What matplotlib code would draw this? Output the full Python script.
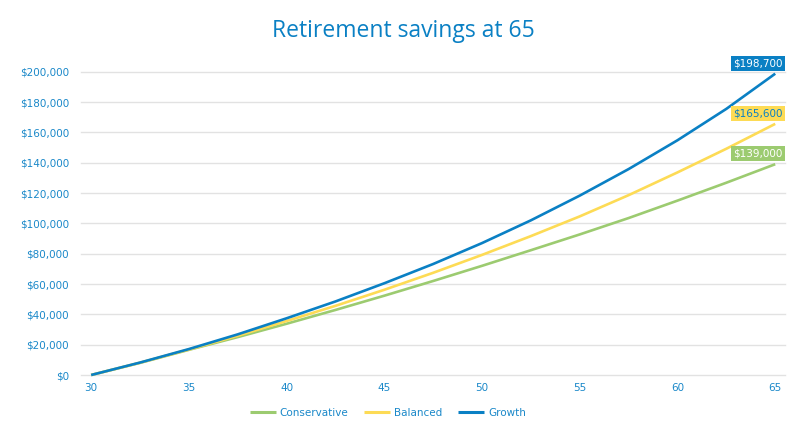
import matplotlib
matplotlib.use("Agg")
import matplotlib.pyplot as plt
from matplotlib.ticker import FuncFormatter, MultipleLocator

# ---- data ----
ages = [30, 32.5, 35, 37.5, 40, 42.5, 45, 47.5, 50, 52.5, 55, 57.5, 60, 62.5, 65]
conservative = [0, 8000, 16600, 25000, 33800, 42900, 52300, 62000, 72000,
                82300, 92700, 103500, 115000, 126800, 139000]
balanced = [0, 8100, 16800, 25900, 35600, 45600, 56200, 67400, 79200,
            91600, 104600, 118600, 133600, 149200, 165600]
growth = [0, 8200, 17100, 26800, 37400, 48500, 60500, 73200, 87000,
          102000, 118300, 135800, 154800, 175500, 198700]
series_names = ["Conservative", "Balanced", "Growth"]
end_labels = ["$139,000", "$165,600", "$198,700"]
x_ticks = [30, 35, 40, 45, 50, 55, 60, 65]
title = "Retirement savings at 65"

# ---- style ----
BLUE = "#0a80c4"
YELLOW = "#fddb55"
GREEN = "#9ccb70"
TXT = "#1a88c9"
GRID = "#e2e2e2"
colors = [GREEN, YELLOW, BLUE]
label_text_colors = ["white", BLUE, "white"]

plt.rcParams['font.family'] = ['DejaVu Sans']

fig = plt.figure(figsize=(8, 4.4), dpi=100)
ax = fig.add_axes([81/800, 1 - 375/440, (785-81)/800, (375-71.7)/440])

for name, vals, c in zip(series_names, [conservative, balanced, growth], colors):
    ax.plot(ages, vals, color=c, lw=1.9, label=name, solid_capstyle='butt',
            clip_on=False, zorder=3)

for vals, lab, c, tc in zip([conservative, balanced, growth], end_labels, colors, label_text_colors):
    ax.annotate(lab, xy=(ages[-1], vals[-1]), xytext=(7.5, 10.5),
                textcoords='offset pixels', ha='right', va='center',
                fontsize=7.5, color=tc, zorder=5, annotation_clip=False,
                bbox=dict(boxstyle='square,pad=0.25', fc=c, ec='none'))

ax.set_xlim(29.48, 65.5)
ax.set_ylim(0, 200000)
ax.set_xticks(x_ticks)
ax.yaxis.set_major_locator(MultipleLocator(20000))
ax.yaxis.set_major_formatter(FuncFormatter(lambda v, p: f"${v:,.0f}"))
ax.grid(axis='y', color=GRID, lw=1.0)
ax.set_axisbelow(True)
for gl in ax.get_ygridlines():
    gl.set_clip_on(False)
for s in ax.spines.values():
    s.set_visible(False)
ax.tick_params(axis='both', length=0, labelsize=7.5, colors=TXT)
ax.tick_params(axis='y', pad=8.5)
ax.tick_params(axis='x', pad=6)

fig.text(0.504, 1 - 31/440, title, ha='center', va='center', fontsize=16.5,
         color=BLUE, family=['Open Sans', 'DejaVu Sans'])

leg = fig.legend(loc='center', bbox_to_anchor=(388/800, 1 - 413/440), ncol=3,
                 frameon=False, fontsize=7.5, handlelength=2.5, handletextpad=0.4,
                 columnspacing=1.5)
for t in leg.get_texts():
    t.set_color(TXT)
for h in leg.get_lines():
    h.set_linewidth(2.2)

fig.savefig("out.png", dpi=100)
